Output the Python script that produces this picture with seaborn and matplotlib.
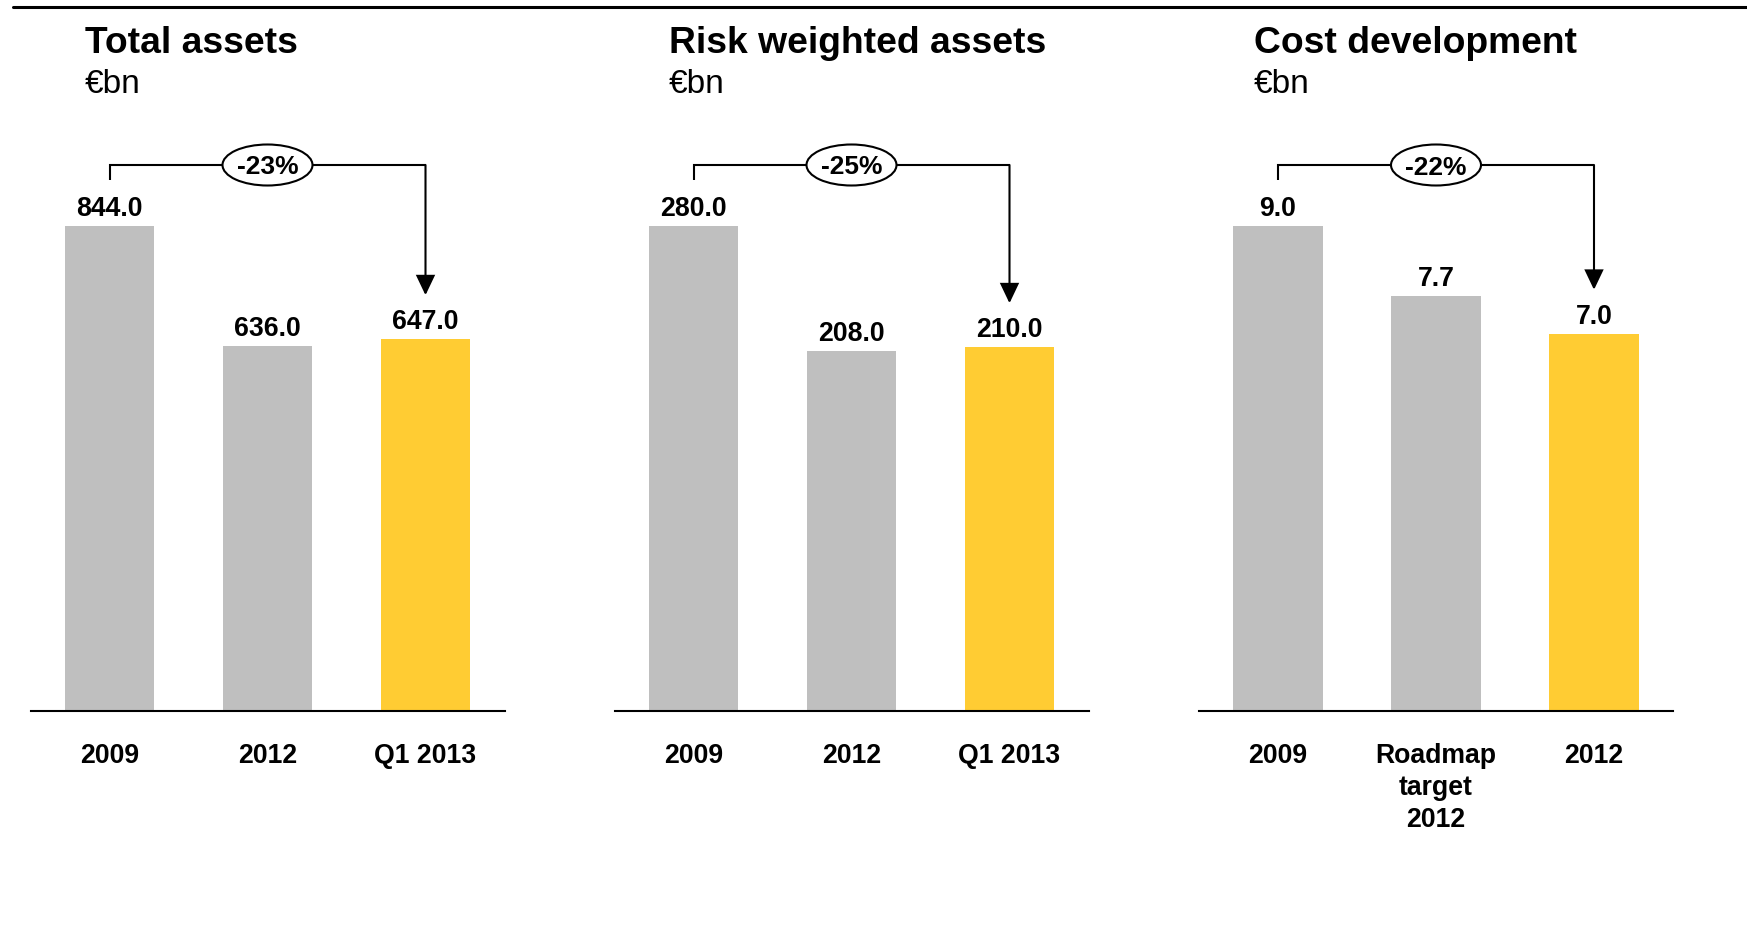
import matplotlib
matplotlib.use("Agg")
import matplotlib.pyplot as plt
import seaborn as sns
import pandas as pd
from matplotlib.patches import Ellipse
from matplotlib.lines import Line2D
from matplotlib.transforms import ScaledTranslation

# Panel titles and unit
titles = ["Total assets", "Risk weighted assets", "Cost development"]
unit = "€bn"

# Total assets (€bn)
total_assets_labels = ["2009", "2012", "Q1 2013"]
total_assets = [844.0, 636.0, 647.0]

# Risk weighted assets (€bn)
rwa_labels = ["2009", "2012", "Q1 2013"]
rwa = [280.0, 208.0, 210.0]

# Cost development (€bn)
cost_labels = ["2009", "Roadmap\ntarget\n2012", "2012"]
cost = [9.0, 7.7, 7.0]

GREY = "#BFBFBF"
YELLOW = "#FFCC33"

sns.set_theme(style="white")
plt.rcParams["font.family"] = ["Liberation Sans", "DejaVu Sans"]

W, H = 1747, 925
fig = plt.figure(figsize=(W / 100, H / 100), dpi=100)

# rule across the top of the slide
fig.add_artist(Line2D([13 / W, 1.0], [1 - 7 / H, 1 - 7 / H],
                      transform=fig.transFigure, color="black", lw=2.2))

panels = [
    (titles[0], total_assets_labels, total_assets),
    (titles[1], rwa_labels, rwa),
    (titles[2], cost_labels, cost),
]
lefts = [30.5, 614.5, 1199.0]   # axes left edge, px
ax_w = 474                        # axes width, px
base_y = 711                      # baseline, px from top
top_y = 100                       # axes top, px from top
bar_px = 485                      # pixel height of the tallest bar
LABEL_FS = 19.2

for (title, labels, values), left in zip(panels, lefts):
    ax = fig.add_axes([left / W, (H - base_y) / H, ax_w / W, (base_y - top_y) / H])
    df = pd.DataFrame({"period": labels, "value": values})
    sns.barplot(data=df, x="period", y="value", hue="period",
                palette=[GREY, GREY, YELLOW], legend=False,
                width=0.565, saturation=1, linewidth=0, ax=ax)

    vmax = max(values)
    ax.set_xlim(-0.5, 2.5)
    ax.set_ylim(0, vmax * (base_y - top_y) / bar_px)
    ax.set_xlabel("")
    ax.set_ylabel("")
    ax.set_yticks([])
    for side in ("top", "left", "right"):
        ax.spines[side].set_visible(False)
    ax.spines["bottom"].set_color("black")
    ax.spines["bottom"].set_linewidth(1.5)
    ax.tick_params(axis="x", length=0, pad=23, labelsize=LABEL_FS, colors="black")
    for lbl in ax.get_xticklabels():
        lbl.set_fontweight("bold")
        lbl.set_linespacing(1.29)

    # title and unit
    fig.text((left + 54.5) / W, 1 - 53 / H, title, fontsize=26.8,
             fontweight="bold", va="baseline", ha="left", color="black")
    fig.text((left + 54.5) / W, 1 - 93 / H, unit, fontsize=24,
             va="baseline", ha="left", color="black")

    # value labels
    for i, v in enumerate(values):
        ax.annotate(f"{v:.1f}", (i, v), xytext=(0, 7.2), textcoords="offset points",
                    ha="center", va="baseline", fontsize=LABEL_FS, fontweight="bold",
                    color="black")

    # change bracket from first to last bar
    unit_px = vmax / bar_px
    h_line = vmax + 61 * unit_px
    stub_bottom = vmax + 46 * unit_px
    tip = values[2] + 44 * unit_px
    ax.plot([0, 0, 2], [stub_bottom, h_line, h_line], color="black", lw=1.5,
            solid_joinstyle="miter", solid_capstyle="butt", clip_on=False, zorder=3)
    ax.annotate("", xy=(2, tip), xytext=(2, h_line),
                arrowprops=dict(arrowstyle="-|>,head_length=0.61,head_width=0.29",
                                mutation_scale=20, lw=1.5, color="black",
                                shrinkA=0, shrinkB=0, joinstyle="miter"),
                annotation_clip=False, zorder=3)

    change = round((values[2] - values[0]) / values[0] * 100)
    ell = Ellipse((0, 0), width=90 / 100, height=41 / 100,
                  transform=fig.dpi_scale_trans + ScaledTranslation(1, h_line, ax.transData),
                  facecolor="white", edgecolor="black", lw=1.5, zorder=4, clip_on=False)
    ax.add_artist(ell)
    ax.text(1, h_line, f"{change}%", ha="center", va="center_baseline",
            fontsize=19, fontweight="bold", color="black", zorder=5, clip_on=False)

fig.savefig("out.png", dpi=100)
